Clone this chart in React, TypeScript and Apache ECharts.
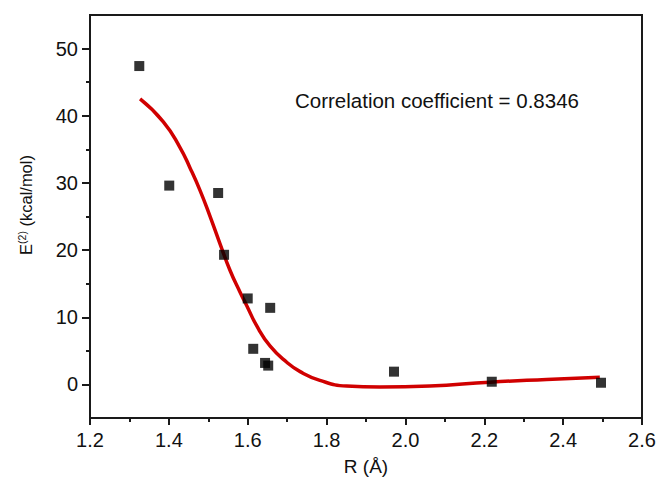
import React, { useEffect, useRef } from "react";
import * as echarts from "echarts";

// Scatter data: R (Å) and E(2) (kcal/mol)
const pointR = [1.325, 1.401, 1.525, 1.540, 1.600, 1.614, 1.657, 1.644, 1.652, 1.971, 2.219, 2.496];
const pointE = [47.4, 29.6, 28.5, 19.3, 12.8, 5.3, 11.4, 3.2, 2.8, 1.9, 0.4, 0.25];

// Fitted curve
const fitR = [1.327, 1.386, 1.428, 1.454, 1.479, 1.504, 1.530, 1.555, 1.580, 1.597, 1.623, 1.657, 1.699, 1.733, 1.783, 1.851, 1.935, 2.062, 2.214, 2.358, 2.493];
const fitE = [42.5, 39.1, 35.3, 32.2, 28.9, 25.1, 20.9, 17.0, 13.8, 11.8, 8.7, 5.7, 3.3, 1.9, 0.6, -0.25, -0.4, -0.25, 0.34, 0.74, 1.07];

const yMajor = [0, 10, 20, 30, 40, 50];
const yMinor = [5, 15, 25, 35, 45];
const annotation = "Correlation coefficient = 0.8346";
const xTitle = "R (Å)";

const FONT = "'Liberation Sans', Arial, Helvetica, sans-serif";
const AX = "#1a1a1a";

export default function App() {
  const ref = useRef<HTMLDivElement>(null);
  useEffect(() => {
    if (!ref.current) return;
    const chart = echarts.init(ref.current, undefined, { renderer: "svg" });
    const option: any = {
      animation: false,
      backgroundColor: "#ffffff",
      grid: {
        left: 90, top: 15, right: 17, bottom: 58,
        show: true, borderColor: AX, borderWidth: 2, backgroundColor: "transparent",
      },
      xAxis: {
        type: "value", min: 1.2, max: 2.6, interval: 0.2,
        name: xTitle, nameLocation: "middle", nameGap: 39,
        nameTextStyle: { fontFamily: FONT, fontSize: 19, color: "#111" },
        axisLine: { show: true, onZero: false, lineStyle: { color: AX, width: 2 } },
        axisTick: { show: true, length: 7, lineStyle: { color: AX, width: 2 } },
        minorTick: { show: true, splitNumber: 2, length: 4, lineStyle: { color: AX, width: 2 } },
        splitLine: { show: false },
        axisLabel: { fontFamily: FONT, fontSize: 20, color: "#111", margin: 12, formatter: (v: number) => v.toFixed(1) },
      },
      yAxis: [
        {
          type: "value", min: -5, max: 55, position: "left",
          axisLine: { show: true, onZero: false, lineStyle: { color: AX, width: 2 } },
          axisTick: { show: true, length: 8, customValues: yMajor, lineStyle: { color: AX, width: 2 } },
          axisLabel: { fontFamily: FONT, fontSize: 20, color: "#111", margin: 12, customValues: yMajor },
          splitLine: { show: false },
        },
        {
          type: "value", min: -5, max: 55, position: "left", offset: 0,
          axisLine: { show: false },
          axisTick: { show: true, length: 4, customValues: yMinor, lineStyle: { color: AX, width: 2 } },
          axisLabel: { show: false },
          splitLine: { show: false },
        },
      ],
      graphic: [
        {
          type: "text", x: 295, y: 100,
          style: { text: annotation, font: `20.5px ${FONT}`, fill: "#111", verticalAlign: "middle", align: "left" },
        },
        {
          type: "text", x: 26, y: 205, rotation: Math.PI / 2,
          style: {
            text: "E{sup|(2)} (kcal/mol)",
            font: `16.5px ${FONT}`, fill: "#111", align: "center", verticalAlign: "middle",
            rich: { sup: { fontSize: 10.5, fontFamily: FONT, verticalAlign: "top", padding: [0, 0, 8, 0], fill: "#111" } },
          },
        },
      ],
      series: [
        {
          type: "line", xAxisIndex: 0, yAxisIndex: 0,
          data: fitR.map((r, i) => [r, fitE[i]]),
          smooth: 0.5, showSymbol: false, symbol: "none",
          lineStyle: { color: "#d00000", width: 3.5 }, z: 2,
        },
        {
          type: "scatter", xAxisIndex: 0, yAxisIndex: 0,
          data: pointR.map((r, i) => [r, pointE[i]]),
          symbol: "rect", symbolSize: 10,
          itemStyle: { color: "#000000" }, z: 3,
        },
      ],
    };
    chart.setOption(option);
    return () => chart.dispose();
  }, []);
  return <div ref={ref} style={{ width: 659, height: 481, position: "absolute", left: 0, top: 0 }} />;
}
